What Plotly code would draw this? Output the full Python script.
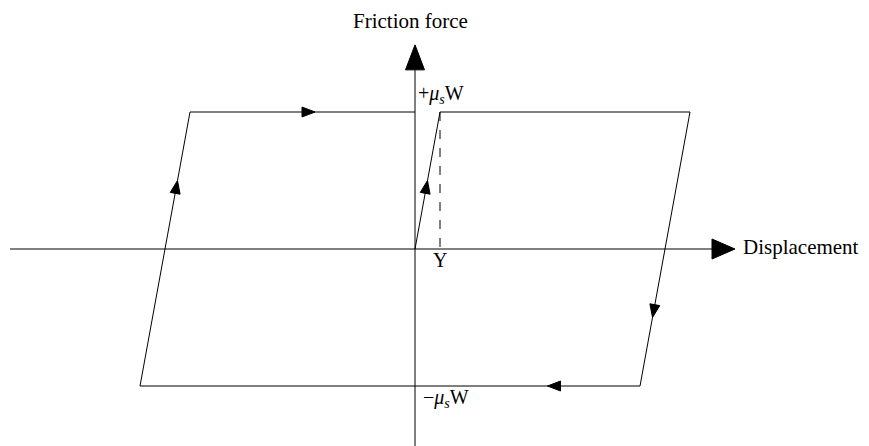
import math
import plotly.graph_objects as go

# Hysteresis loop of a friction element (displacement in units of Y, force in units of mu_s*W)
loop_x = [0, 1, 11, 9, -11, -9, 0]
loop_y = [0, 1, 1, -1, -1, 1, 1]

# dashed drop line from the yield point to the displacement axis
yield_x = [1, 1]
yield_y = [1, 0]

# direction arrows along the loop: tip position and the segment they sit on
arrow_tip_x = [-4, -9.5, 0.5, 9.5, 5.3]
arrow_tip_y = [1, 0.5, 0.5, -0.5, -1]
arrow_seg = [((-9, 1), (0, 1)), ((-11, -1), (-9, 1)), ((0, 0), (1, 1)),
             ((11, 1), (9, -1)), ((9, -1), (-11, -1))]

# axes extents
xaxis_x = [-16.2, 12.8]
yaxis_y = [-1.45, 1.49]

PAGE_OFF = 8                # default page margin of the html body
W, H = 869 - PAGE_OFF, 446 - PAGE_OFF
X0PX, Y0PX = 415 - PAGE_OFF, 249 - PAGE_OFF   # origin inside the figure
SX, SY = 25.0, 137.0        # pixels per data unit
x_range = [-X0PX / SX, (W - X0PX) / SX]
y_range = [(Y0PX - H) / SY, Y0PX / SY]

BLACK = "#000000"
FONT = "Liberation Serif, Times New Roman, serif"

fig = go.Figure()


def tri(tip, d, length, half):
    """Filled triangle given tip in data coords, pixel-direction d, pixel sizes."""
    dx, dy = d
    n = math.hypot(dx, dy)
    dx, dy = dx / n, dy / n
    tx = X0PX + tip[0] * SX
    ty = Y0PX - tip[1] * SY
    bx, by = tx - dx * length, ty - dy * length
    px, py = -dy, dx
    pts = [(tx, ty), (bx + px * half, by + py * half), (bx - px * half, by - py * half), (tx, ty)]
    xs = [(p[0] - X0PX) / SX for p in pts]
    ys = [(Y0PX - p[1]) / SY for p in pts]
    return xs, ys


def add_tri(xs, ys):
    fig.add_trace(go.Scatter(x=xs, y=ys, mode="lines", fill="toself", fillcolor=BLACK,
                             line=dict(color=BLACK, width=1), hoverinfo="skip", showlegend=False))


# displacement axis (stops at arrow base)
ax_len, ax_half = 23, 10
fig.add_trace(go.Scatter(x=[xaxis_x[0], xaxis_x[1] - ax_len / SX], y=[0, 0], mode="lines",
                         line=dict(color=BLACK, width=1), hoverinfo="skip", showlegend=False))
xs, ys = tri((xaxis_x[1], 0), (1, 0), ax_len, ax_half)
add_tri(xs, ys)

# force axis
ay_len, ay_half = 25, 9.5
fig.add_trace(go.Scatter(x=[0, 0], y=[yaxis_y[0], yaxis_y[1] - ay_len / SY], mode="lines",
                         line=dict(color=BLACK, width=1), hoverinfo="skip", showlegend=False))
xs, ys = tri((0, yaxis_y[1]), (0, -1), ay_len, ay_half)
add_tri(xs, ys)

# loop
fig.add_trace(go.Scatter(x=loop_x, y=loop_y, mode="lines", line=dict(color=BLACK, width=1),
                         hoverinfo="skip", showlegend=False))
fig.add_trace(go.Scatter(x=yield_x, y=yield_y, mode="lines",
                         line=dict(color=BLACK, width=1, dash="dash"),
                         hoverinfo="skip", showlegend=False))

# loop arrows
for tx, ty, (a, b) in zip(arrow_tip_x, arrow_tip_y, arrow_seg):
    d = ((b[0] - a[0]) * SX, -(b[1] - a[1]) * SY)
    xs, ys = tri((tx, ty), d, 13, 5)
    add_tri(xs, ys)

# labels (positions in data units)
labels = [
    dict(x=-0.2, y=(249 - 21) / SY, text="Friction force", xanchor="center", size=21),
    dict(x=0.04, y=(249 - 94) / SY, text="+<i>μ<sub>s</sub></i>W", xanchor="left", size=20),
    dict(x=0.25, y=(249 - 398) / SY, text="−<i>μ<sub>s</sub></i>W", xanchor="left", size=20),
    dict(x=1, y=(249 - 260) / SY, text="Y", xanchor="center", size=20),
    dict(x=13.05, y=(249 - 247) / SY, text="Displacement", xanchor="left", size=21),
]
for lb in labels:
    fig.add_annotation(x=lb["x"], y=lb["y"], text=lb["text"], xanchor=lb["xanchor"],
                       yanchor="middle", showarrow=False,
                       font=dict(family=FONT, size=lb["size"], color=BLACK))

fig.update_layout(
    width=W, height=H, margin=dict(l=0, r=0, t=0, b=0),
    paper_bgcolor="white", plot_bgcolor="white",
    xaxis=dict(range=x_range, visible=False, fixedrange=True),
    yaxis=dict(range=y_range, visible=False, fixedrange=True),
    showlegend=False,
)

fig.write_html("out.html")
